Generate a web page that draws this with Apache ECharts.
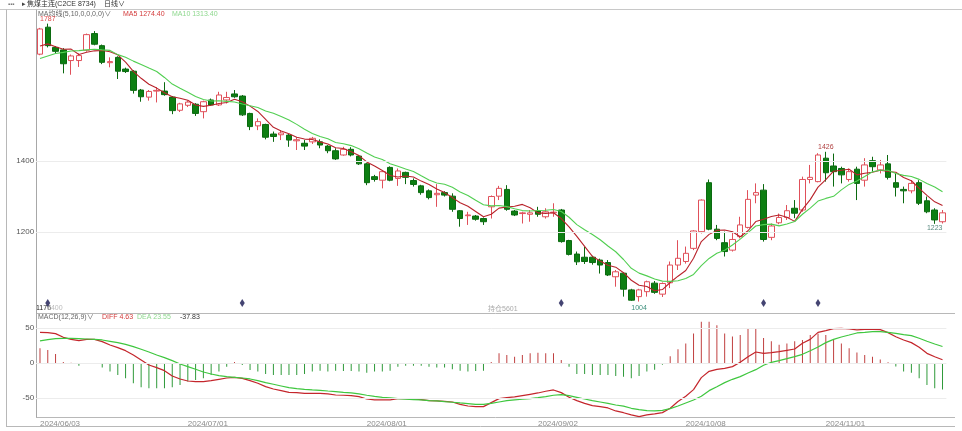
<!DOCTYPE html>
<html><head><meta charset="utf-8">
<script src="https://cdn.jsdelivr.net/npm/echarts@6/dist/echarts.min.js"></script>
<style>html,body{margin:0;padding:0;background:#fff;}#c{width:962px;height:431px;}</style>
</head><body><div id="c"></div>
<script>
const dates = ['2024/06/03','2024/06/04','2024/06/05','2024/06/06','2024/06/07','2024/06/11','2024/06/12','2024/06/13','2024/06/14','2024/06/17','2024/06/18','2024/06/19','2024/06/20','2024/06/21','2024/06/24','2024/06/25','2024/06/26','2024/06/27','2024/06/28',
'2024/07/01','2024/07/02','2024/07/03','2024/07/04','2024/07/05','2024/07/08','2024/07/09','2024/07/10','2024/07/11','2024/07/12','2024/07/15','2024/07/16','2024/07/17','2024/07/18','2024/07/19','2024/07/22','2024/07/23','2024/07/24','2024/07/25','2024/07/26','2024/07/29','2024/07/30','2024/07/31',
'2024/08/01','2024/08/02','2024/08/05','2024/08/06','2024/08/07','2024/08/08','2024/08/09','2024/08/12','2024/08/13','2024/08/14','2024/08/15','2024/08/16','2024/08/19','2024/08/20','2024/08/21','2024/08/22','2024/08/23','2024/08/26','2024/08/27','2024/08/28','2024/08/29','2024/08/30',
'2024/09/02','2024/09/03','2024/09/04','2024/09/05','2024/09/06','2024/09/09','2024/09/10','2024/09/11','2024/09/12','2024/09/13','2024/09/18','2024/09/19','2024/09/20','2024/09/23','2024/09/24','2024/09/25','2024/09/26','2024/09/27','2024/09/30',
'2024/10/08','2024/10/09','2024/10/10','2024/10/11','2024/10/14','2024/10/15','2024/10/16','2024/10/17','2024/10/18','2024/10/21','2024/10/22','2024/10/23','2024/10/24','2024/10/25','2024/10/28','2024/10/29','2024/10/30','2024/10/31',
'2024/11/01','2024/11/04','2024/11/05','2024/11/06','2024/11/07','2024/11/08','2024/11/11','2024/11/12','2024/11/13','2024/11/14','2024/11/15','2024/11/18','2024/11/19','2024/11/20','2024/11/21','2024/11/22'];

const opens = [1701,1777,1720,1713,1683,1683,1712,1759,1725,1677,
1692,1659,1653,1600,1580,1597,1597,1580,1543,1557,
1560,1539,1572,1558,1572,1589,1583,1534,1499,1503,
1476,1474,1473,1457,1450,1454,1454,1442,1429,1417,
1433,1414,1392,1356,1346,1382,1351,1368,1345,1330,
1316,1305,1311,1301,1260,1246,1245,1238,1271,1301,
1320,1259,1252,1250,1259,1243,1254,1262,1176,1138,
1129,1129,1121,1114,1074,1084,1037,1018,1032,1056,
1025,1057,1107,1117,1154,1201,1339,1208,1170,1149,
1187,1213,1304,1318,1185,1226,1241,1267,1262,1348,
1342,1408,1386,1379,1348,1377,1346,1401,1375,1392,
1339,1320,1316,1339,1288,1262,1229];

const closes = [1772,1725,1709,1674,1696,1697,1756,1729,1678,1680,
1653,1652,1599,1581,1596,1599,1587,1542,1561,1566,
1534,1567,1558,1586,1579,1581,1530,1497,1511,1467,
1469,1479,1459,1460,1442,1464,1445,1429,1406,1433,
1417,1392,1339,1348,1370,1346,1372,1354,1334,1311,
1297,1309,1304,1264,1238,1248,1236,1229,1300,1323,
1264,1248,1254,1254,1250,1257,1256,1173,1137,1116,
1117,1114,1107,1079,1088,1039,1008,1037,1060,1030,
1055,1107,1126,1140,1203,1290,1208,1182,1145,1179,
1220,1292,1311,1179,1217,1241,1260,1253,1348,1354,
1417,1367,1370,1361,1370,1337,1389,1384,1389,1354,
1326,1316,1337,1281,1257,1234,1254];

const lows = [1698,1720,1704,1647,1643,1665,1708,1726,1673,1664,
1631,1648,1590,1567,1570,1565,1584,1532,1538,1552,
1527,1520,1555,1555,1562,1578,1527,1487,1487,1461,
1454,1459,1440,1431,1431,1448,1436,1422,1403,1415,
1413,1389,1332,1342,1323,1343,1330,1335,1328,1305,
1292,1271,1300,1257,1215,1220,1232,1220,1238,1290,
1260,1245,1224,1229,1243,1238,1243,1170,1134,1107,
1110,1108,1083,1076,1046,1018,1006,1004,1018,1026,
1017,1042,1093,1111,1149,1196,1205,1177,1131,1145,
1182,1210,1281,1173,1177,1222,1234,1239,1257,1337,
1340,1342,1328,1337,1342,1290,1328,1370,1365,1348,
1300,1281,1309,1276,1253,1223,1224];

const highs = [1775,1787,1724,1718,1700,1703,1759,1766,1728,1692,
1695,1663,1656,1603,1600,1608,1622,1583,1564,1570,
1563,1570,1576,1595,1595,1600,1586,1536,1520,1505,
1483,1487,1476,1467,1459,1468,1461,1445,1436,1440,
1439,1417,1395,1361,1373,1385,1379,1370,1351,1333,
1320,1335,1315,1309,1262,1257,1248,1241,1303,1330,
1332,1262,1257,1262,1271,1267,1281,1265,1178,1145,
1158,1133,1125,1121,1093,1087,1040,1040,1063,1062,
1058,1117,1177,1159,1205,1292,1348,1220,1201,1201,
1243,1318,1337,1335,1224,1252,1276,1290,1356,1389,
1422,1426,1421,1384,1379,1384,1408,1412,1403,1417,
1365,1328,1346,1346,1300,1267,1262];

const ma5 = [1724,1730,1722,1715,1715.2,1700.2,1706.4,1710.4,1711.2,1708,
1699.2,1678.4,1652.4,1633,1616.2,1605.4,1592.4,1581,1577,1571,
1558,1554,1557.2,1562.2,1564.8,1574.2,1566.8,1554.6,1539.6,1517.2,
1494.8,1484.6,1477,1466.8,1461.8,1460.8,1454,1448,1437.2,1435.4,
1426,1415.4,1397.4,1385.8,1373.2,1359,1355,1358,1355.2,1343.4,
1333.6,1321,1311,1297,1282.4,1272.6,1258,1243,1250.2,1267.2,
1270.4,1272.8,1277.8,1268.6,1254,1252.6,1254.2,1238,1214.6,1187.8,
1159.8,1131.4,1118.2,1106.6,1101,1085.4,1064.2,1050.2,1046.4,1034.8,
1038,1057.8,1075.6,1091.6,1126.2,1173.2,1193.4,1204.6,1205.6,1200.8,
1186.8,1203.6,1229.4,1236.2,1243.8,1248,1241.6,1230,1263.8,1291.2,
1326.4,1347.8,1371.2,1373.8,1377,1361,1365.4,1368.2,1373.8,1370.6,
1368.4,1353.8,1344.4,1322.8,1303.4,1285,1274.4];

const ma10 = [1689,1696,1703,1706,1710,1711,1713,1715,1713,1711.6,
1699.7,1692.4,1681.4,1672.1,1662.1,1652.3,1635.4,1616.7,1605,1593.6,
1581.7,1573.2,1569.1,1569.6,1567.9,1566.1,1560.4,1555.9,1550.9,1541,
1534.5,1525.7,1515.8,1503.2,1489.5,1477.8,1469.3,1462.5,1452,1448.6,
1443.4,1434.7,1422.7,1411.5,1404.3,1392.5,1385.2,1377.7,1370.5,1358.3,
1346.3,1338,1334.5,1326.1,1312.9,1303.1,1289.5,1277,1273.6,1274.8,
1271.5,1265.4,1260.4,1259.4,1260.6,1261.5,1263.5,1257.9,1241.6,1220.9,
1206.2,1192.8,1178.1,1160.6,1144.4,1122.6,1097.8,1084.2,1076.5,1067.9,
1061.7,1061,1062.9,1069,1080.5,1105.6,1125.6,1140.1,1148.6,1163.5,
1180,1198.5,1217,1220.9,1222.3,1217.4,1222.6,1229.7,1250,1267.5,
1287.2,1294.7,1300.6,1318.8,1334.1,1343.7,1356.6,1369.7,1373.8,1373.8,
1364.7,1359.6,1356.3,1348.3,1337,1326.7,1313.4];

const diff = [43.8,43.4,42,36.7,33.8,32,33.8,33.8,30.5,25.7,
22,17.6,11.5,4.3,-2.8,-6.6,-10.9,-18.5,-22.8,-25.7,
-26.6,-26.6,-25.2,-23.3,-21.4,-20.4,-21.9,-25.2,-29,-33.8,
-37.1,-39.5,-41.9,-42.3,-43.3,-43.3,-43.3,-44.2,-45.7,-46.1,
-46.6,-48,-51.4,-52.8,-52.8,-52.8,-50.9,-50.9,-51.4,-52.3,
-53.8,-54.2,-54.7,-55.7,-59,-61.4,-62.3,-62.3,-56.6,-50.9,
-49.5,-48.5,-46.6,-44.7,-42.8,-40.4,-38.5,-42.3,-49,-53.8,
-57.6,-60.9,-62.3,-64.2,-68.5,-71,-74.2,-76.6,-74.2,-72.8,
-70.9,-64.7,-55,-47.6,-38,-20.9,-11.9,-9,-7.6,-5.2,
1,9,15.7,13.8,14.8,16.2,18.1,20,28.1,33.8,
43.8,46.2,49,49.5,48.6,47.2,48.1,48.1,47.6,43.4,
37.6,32.9,29.1,22.4,13.8,9,4.63];

const dea = [31.5,33.4,34.8,35.3,35.3,34.8,34.3,33.8,32.9,31,
29.1,26.7,23.4,19.6,15.7,11.5,7.7,3.4,-1.4,-5.2,
-9,-12.8,-15.7,-18,-19.5,-20.4,-21.4,-22.8,-25.2,-28,
-30.4,-32.8,-35.2,-36.6,-37.6,-38.5,-39,-40,-40.9,-41.9,
-42.8,-44.2,-46.1,-47.6,-49,-49.9,-50.9,-51.8,-52.3,-52.8,
-53.8,-54.2,-55.2,-56.1,-57.1,-58,-59,-59,-57.6,-55.7,
-53.8,-52.8,-51.8,-50.9,-49.5,-48,-46.1,-45.2,-46.6,-49,
-51.4,-53.8,-55.7,-57.6,-60,-61.5,-64.7,-66.6,-68,-68.5,
-67.6,-65.2,-61.4,-57.1,-52.8,-47.6,-39.5,-33.8,-28,-23.3,
-19.5,-14.2,-9.5,-3.3,1,3.4,6.2,9.1,12.4,17.6,
22.9,29.1,33.8,37.2,40,42.9,43.8,44.8,44.8,43.8,
42.4,40.5,39.1,35.3,31,27.2,23.55];

const macdHist = [21,18.6,12.9,1.4,0.5,-3.8,-1,-0.5,-6.6,-12.3,
-17.1,-21.9,-29,-34.7,-36.1,-36.1,-36.1,-34.7,-31.4,-26.6,
-24.2,-21.9,-17.1,-12.3,-5.2,1.4,-2.8,-10,-12.3,-15.7,
-17.1,-17.1,-17.1,-17.1,-15.7,-12.3,-11,-12.3,-11,-11.4,
-11.4,-12.3,-13.8,-12.3,-12.3,-11,-5.2,-3.8,-3.8,-3.8,
-5.2,-6.6,-6.6,-9,-11,-12.3,-11.4,-11,1.4,13.8,
11.4,9,11.4,13.8,14.8,13.8,13.8,4.3,-5.2,-15.7,
-15.7,-17.1,-17.1,-17.1,-18.5,-19.5,-21.9,-18.5,-12.3,-9.5,
-2.4,9.5,19.5,28,42,59,59,54,42,38,
40,50,50,35.7,31,26,28,31,33,40,
42,40,33,28,21,15,11.4,9,5,1,
-5,-12,-13.8,-21.9,-31.4,-36,-37.83];

const dateTicks = ['2024/06/03','2024/07/01','2024/08/01','2024/09/02','2024/10/08','2024/11/01'];
const priceTicks = [1200, 1400];
const macdTicks = [-50, 0, 50];
const eventDates = ['2024/06/04','2024/07/10','2024/09/05','2024/10/22','2024/10/31'];
const eventLevel = 1000;
const highNotes = [1787, 1426];
const lowNotes = [1004, 1223];

const FONT = '"Liberation Sans","Noto Sans CJK SC",sans-serif';
const chart = echarts.init(document.getElementById('c'));
const candles = dates.map((d, i) => [opens[i], closes[i], lows[i], highs[i]]);

function txt(x, y, s, color, size) {
  return {type: 'text', x: x, y: y, silent: true,
    style: {text: s, fill: color, font: (size || 7) + 'px ' + FONT, verticalAlign: 'middle', align: 'left'}};
}
function ln(x1, y1, x2, y2, c) {
  return {type: 'line', silent: true, shape: {x1: x1, y1: y1, x2: x2, y2: y2}, style: {stroke: c || '#b8b8b8', lineWidth: 1}};
}

const option = {
  backgroundColor: '#ffffff',
  animation: false,
  grid: [
    {left: 36.1, width: 910.3, top: 10, height: 303},
    {left: 36.1, width: 910.3, top: 313, height: 104}
  ],
  xAxis: [
    {type: 'category', gridIndex: 0, data: dates, boundaryGap: true,
      axisLine: {show: false}, axisTick: {show: false}, axisLabel: {show: false}, splitLine: {show: false}},
    {type: 'category', gridIndex: 1, data: dates, boundaryGap: true,
      axisLine: {show: false}, axisTick: {show: false}, splitLine: {show: false},
      axisLabel: {show: true, interval: (idx, val) => dateTicks.includes(val), align: 'left',
        color: '#8c8c8c', fontSize: 8, fontFamily: FONT, margin: 3}}
  ],
  yAxis: [
    {type: 'value', gridIndex: 0, min: 971.9, max: 1825.4, scale: true,
      axisLine: {show: true, lineStyle: {color: '#a8a8a8'}}, axisTick: {show: false}, splitLine: {show: false},
      axisLabel: {customValues: priceTicks, formatter: v => String(v), color: '#555', fontSize: 8, fontFamily: FONT, margin: 2}},
    {type: 'value', gridIndex: 1, min: -77.14, max: 71.43,
      axisLine: {show: true, lineStyle: {color: '#a8a8a8'}}, axisTick: {show: false}, splitLine: {show: false},
      axisLabel: {customValues: macdTicks, formatter: v => String(v), color: '#555', fontSize: 8, fontFamily: FONT, margin: 2}}
  ],
  series: [
    {type: 'candlestick', name: 'K', xAxisIndex: 0, yAxisIndex: 0, data: candles, barWidth: 6,
      itemStyle: {color: '#ffffff', color0: '#0d7f12', borderColor: '#e0505a', borderColor0: '#0b6a10', borderWidth: 1},
      markLine: {silent: true, symbol: 'none', label: {show: false},
        lineStyle: {color: '#ececec', type: 'solid', width: 1},
        data: priceTicks.map(v => ({yAxis: v}))},
      markPoint: {silent: true, symbol: 'circle', symbolSize: 0,
        data: [
          {coord: [dates[highs.indexOf(highNotes[0])], highNotes[0]], value: highNotes[0],
            label: {position: 'top', distance: 1, color: '#e04848'}},
          {coord: [dates[highs.indexOf(highNotes[1])], highNotes[1]], value: highNotes[1],
            label: {position: 'top', distance: 1, color: '#b04040'}},
          {coord: [dates[lows.indexOf(lowNotes[0])], lowNotes[0]], value: lowNotes[0],
            label: {position: 'bottom', distance: 3, color: '#3c8f7c'}},
          {coord: [dates[lows.indexOf(lowNotes[1])], lowNotes[1]], value: lowNotes[1],
            label: {position: 'bottom', distance: 1, color: '#5a8a80'}}
        ],
        label: {show: true, fontSize: 7, fontFamily: FONT, formatter: p => String(p.value)}}
    },
    {type: 'line', name: 'MA5', xAxisIndex: 0, yAxisIndex: 0, data: ma5, symbol: 'none', silent: true,
      lineStyle: {color: '#b8232b', width: 1.1}},
    {type: 'line', name: 'MA10', xAxisIndex: 0, yAxisIndex: 0, data: ma10, symbol: 'none', silent: true,
      lineStyle: {color: '#52cf52', width: 1.1}},
    {type: 'scatter', name: 'events', xAxisIndex: 0, yAxisIndex: 0, symbol: 'diamond', symbolSize: [5, 8],
      data: eventDates.map(d => [d, eventLevel]), itemStyle: {color: '#15154f'}, silent: true},
    {type: 'bar', name: 'MACD', xAxisIndex: 1, yAxisIndex: 1, data: macdHist, barWidth: 1, silent: true,
      itemStyle: {color: p => p.value >= 0 ? '#c04040' : '#2f9a3a'},
      markLine: {silent: true, symbol: 'none', label: {show: false},
        lineStyle: {color: '#ececec', type: 'solid', width: 1},
        data: macdTicks.map(v => ({yAxis: v}))}},
    {type: 'line', name: 'DIFF', xAxisIndex: 1, yAxisIndex: 1, data: diff, symbol: 'none', silent: true,
      lineStyle: {color: '#c4262c', width: 1.2}},
    {type: 'line', name: 'DEA', xAxisIndex: 1, yAxisIndex: 1, data: dea, symbol: 'none', silent: true,
      lineStyle: {color: '#3fc73f', width: 1.2}}
  ],
  graphic: [
    ln(0, 9.5, 962, 9.5, '#c8c8c8'),
    ln(6.5, 9.5, 6.5, 426.5),
    ln(36, 313.5, 955, 313.5),
    ln(36, 417.5, 955, 417.5),
    ln(6, 426.5, 955, 426.5),
    txt(8, 4.5, '▪▪▪', '#777', 6),
    txt(22, 4.5, '▸', '#444', 7),
    txt(27, 4.5, '焦煤主连(C2CE 8734)', '#333', 7),
    txt(104, 4.5, '日线∨', '#333', 7),
    txt(38, 14, 'MA均线(5,10,0,0,0,0)∨', '#666', 7),
    txt(123, 14, 'MA5 1274.40', '#d33a3a', 7),
    txt(172, 14, 'MA10 1313.40', '#8fd88f', 7),
    txt(38, 317.5, 'MACD(12,26,9)∨', '#666', 7),
    txt(102, 317.5, 'DIFF 4.63', '#d33a3a', 7),
    txt(137, 317.5, 'DEA 23.55', '#8fd88f', 7),
    txt(180, 317.5, '-37.83', '#333', 7),
    txt(36, 308, '1176', '#222', 7),
    txt(47, 308, '5400', '#bbbbbb', 7),
    txt(488, 309, '持仓5601', '#aaaaaa', 7)
  ]
};
chart.setOption(option);
</script></body></html>
